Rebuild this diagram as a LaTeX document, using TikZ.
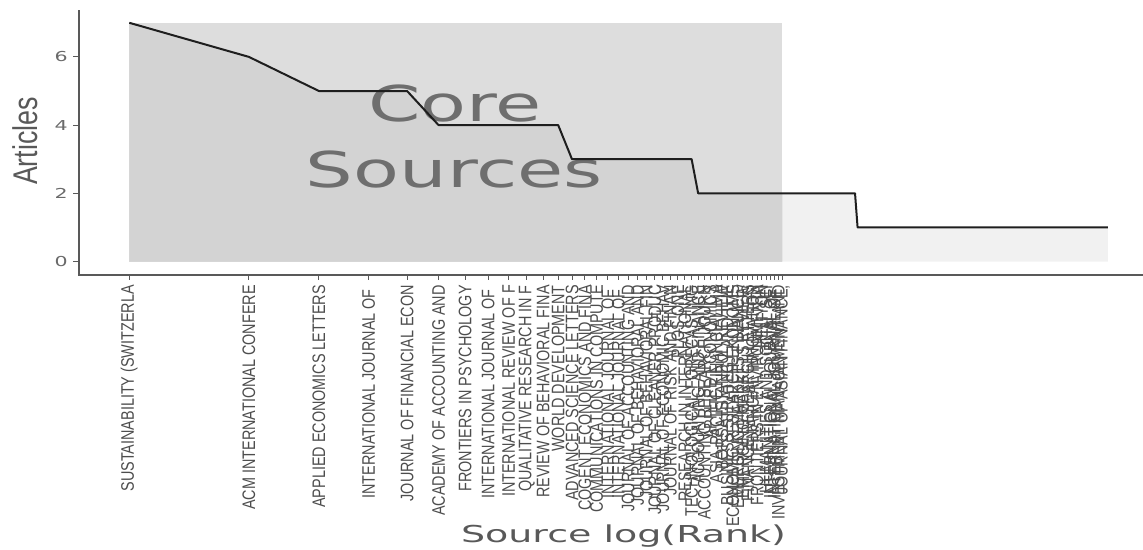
\documentclass[tikz,border=0pt]{standalone}
\usepackage{fontspec}
\usepackage{graphicx}
\newfontfamily\arialf{Liberation Sans}
\newfontfamily\dvs{DejaVu Sans}
\definecolor{areafill}{HTML}{F1F1F1}
\definecolor{corefill}{HTML}{DDDDDD}
\definecolor{overfill}{HTML}{D3D3D3}
\definecolor{axisgray}{HTML}{595959}
\definecolor{labgray}{HTML}{4D4D4D}
\definecolor{numgray}{HTML}{6A6A6A}
\definecolor{coretext}{HTML}{6E6E6E}
\definecolor{titlegray}{HTML}{595959}
\definecolor{curvecol}{HTML}{1E1E1E}
\newcommand\curvepts{({px(1)},{py(7)}) -- ({px(2)},{py(6)}) -- ({px(3)},{py(5)}) -- ({px(5)},{py(5)}) -- ({px(6)},{py(4)}) -- ({px(12)},{py(4)}) -- ({px(13)},{py(3)}) -- ({px(26)},{py(3)}) -- ({px(27)},{py(2)}) -- ({px(67)},{py(2)}) -- ({px(68)},{py(1)}) -- ({px(290)},{py(1)})}
\begin{document}
\begin{tikzpicture}[x=1pt,y=-1pt,
  declare function={px(\r)=129.3+172.6*ln(\r); py(\v)=261.5-34.1*\v;},
  axisline/.style={draw=axisgray,line width=1.4pt},
  tickmark/.style={draw=axisgray,line width=1pt},
  curve/.style={draw=curvecol,line width=2pt,line join=round},
  tlab/.style={rotate=90,anchor=east,inner sep=0pt,text=labgray,font=\arialf\fontsize{14.4}{15}\selectfont},
  ynum/.style={anchor=east,inner sep=0pt,text=numgray,font=\dvs\fontsize{13.7}{14}\selectfont},
  coretxt/.style={anchor=base,inner sep=0pt,text=coretext,font=\dvs\fontsize{49.4}{50}\selectfont},
  axtitle/.style={inner sep=0pt,text=titlegray}]
\useasboundingbox (0,0) rectangle (1143,549);
% area under the curve
\fill[areafill] ({px(1)},{py(0)}) -- \curvepts -- ({px(290)},{py(0)}) -- cycle;
% core sources rectangle
\fill[corefill] ({px(1)},{py(0)}) rectangle ({px(44)},{py(7)});
\begin{scope}
  \clip ({px(1)},{py(0)}) rectangle ({px(44)},{py(7)});
  \fill[overfill] ({px(1)},{py(0)}) -- \curvepts -- ({px(290)},{py(0)}) -- cycle;
\end{scope}
% core sources text
\node[coretxt] (core) at (455,121) {\scalebox{1.52}[1]{Core}};
\node[coretxt] (sources) at (454.5,187) {\scalebox{1.52}[1]{Sources}};
% curve
\draw[curve] \curvepts;
% axes
\draw[axisline] (79,10) -- (79,275) -- (1143,275);
\foreach \v in {0,2,4,6} {
  \draw[tickmark] (73,{py(\v)}) -- (79,{py(\v)});
  \node[ynum] (y\v) at (68,{py(\v)}) {\scalebox{1.5}[1]{\v}};
}
\node[axtitle,rotate=90,font=\arialf\fontsize{26.8}{27}\selectfont] (ytitle) at (25,141) {\scalebox{1}[1.28]{Articles}};
\node[axtitle,anchor=base,font=\dvs\fontsize{23.3}{24}\selectfont] (xtitle) at (623.5,542) {\scalebox{1.63}[1]{Source log(Rank)}};
% x tick labels
\foreach \nm [count=\r] in {
  SUSTAINABILITY (SWITZERLA,
  ACM INTERNATIONAL CONFERE,
  APPLIED ECONOMICS LETTERS,
  INTERNATIONAL JOURNAL OF\kern.28em,
  JOURNAL OF FINANCIAL ECON,
  ACADEMY OF ACCOUNTING AND,
  FRONTIERS IN PSYCHOLOGY,
  INTERNATIONAL JOURNAL OF\kern.28em,
  INTERNATIONAL REVIEW OF F,
  QUALITATIVE RESEARCH IN F,
  REVIEW OF BEHAVIORAL FINA,
  WORLD DEVELOPMENT,
  ADVANCED SCIENCE LETTERS,
  COGENT ECONOMICS AND FINA,
  COMMUNICATIONS IN COMPUTE,
  INTERNATIONAL JOURNAL OF\kern.28em,
  INTERNATIONAL JOURNAL OF\kern.28em,
  JOURNAL OF ACCOUNTING AND,
  JOURNAL OF BEHAVIORAL AND,
  JOURNAL OF BEHAVIORAL FIN,
  JOURNAL OF CLEANER PRODUC,
  JOURNAL OF ECONOMIC BEHAV,
  JOURNAL OF RISK AND FINAN,
  PLOS ONE,
  RESEARCH IN INTERNATIONAL,
  TECHNOLOGICAL FORECASTING,
  ACCOUNTING AND FINANCE,
  ACCOUNTING RESEARCH JOURN,
  APPLIED ECONOMICS,
  ASIA-PACIFIC FINANCIAL MA,
  BORSA ISTANBUL REVIEW,
  BUSINESS STRATEGY AND THE,
  ECONOMIC RESEARCH-EKONOMS,
  EMERGING MARKETS FINANCE\kern.28em,
  EMERGING MARKETS REVIEW,
  FINANCE RESEARCH LETTERS,
  FINANCIAL INNOVATION,
  FRONTIERS IN ENVIRONMENTA,
  HELIYON,
  HUMANITIES AND SOCIAL SCI,
  INTERNATIONAL JOURNAL OF\kern.28em,
  INTERNATIONAL JOURNAL OF\kern.28em,
  INVESTMENT MANAGEMENT AND,
  {JOURNAL OF ASIAN FINANCE,}} {
  \draw[tickmark] ({px(\r)},275) -- ({px(\r)},280);
  \node[tlab] (lab\r) at ({px(\r)},285) {\scalebox{1}[1.26]{\nm}};
}
\end{tikzpicture}
\end{document}
